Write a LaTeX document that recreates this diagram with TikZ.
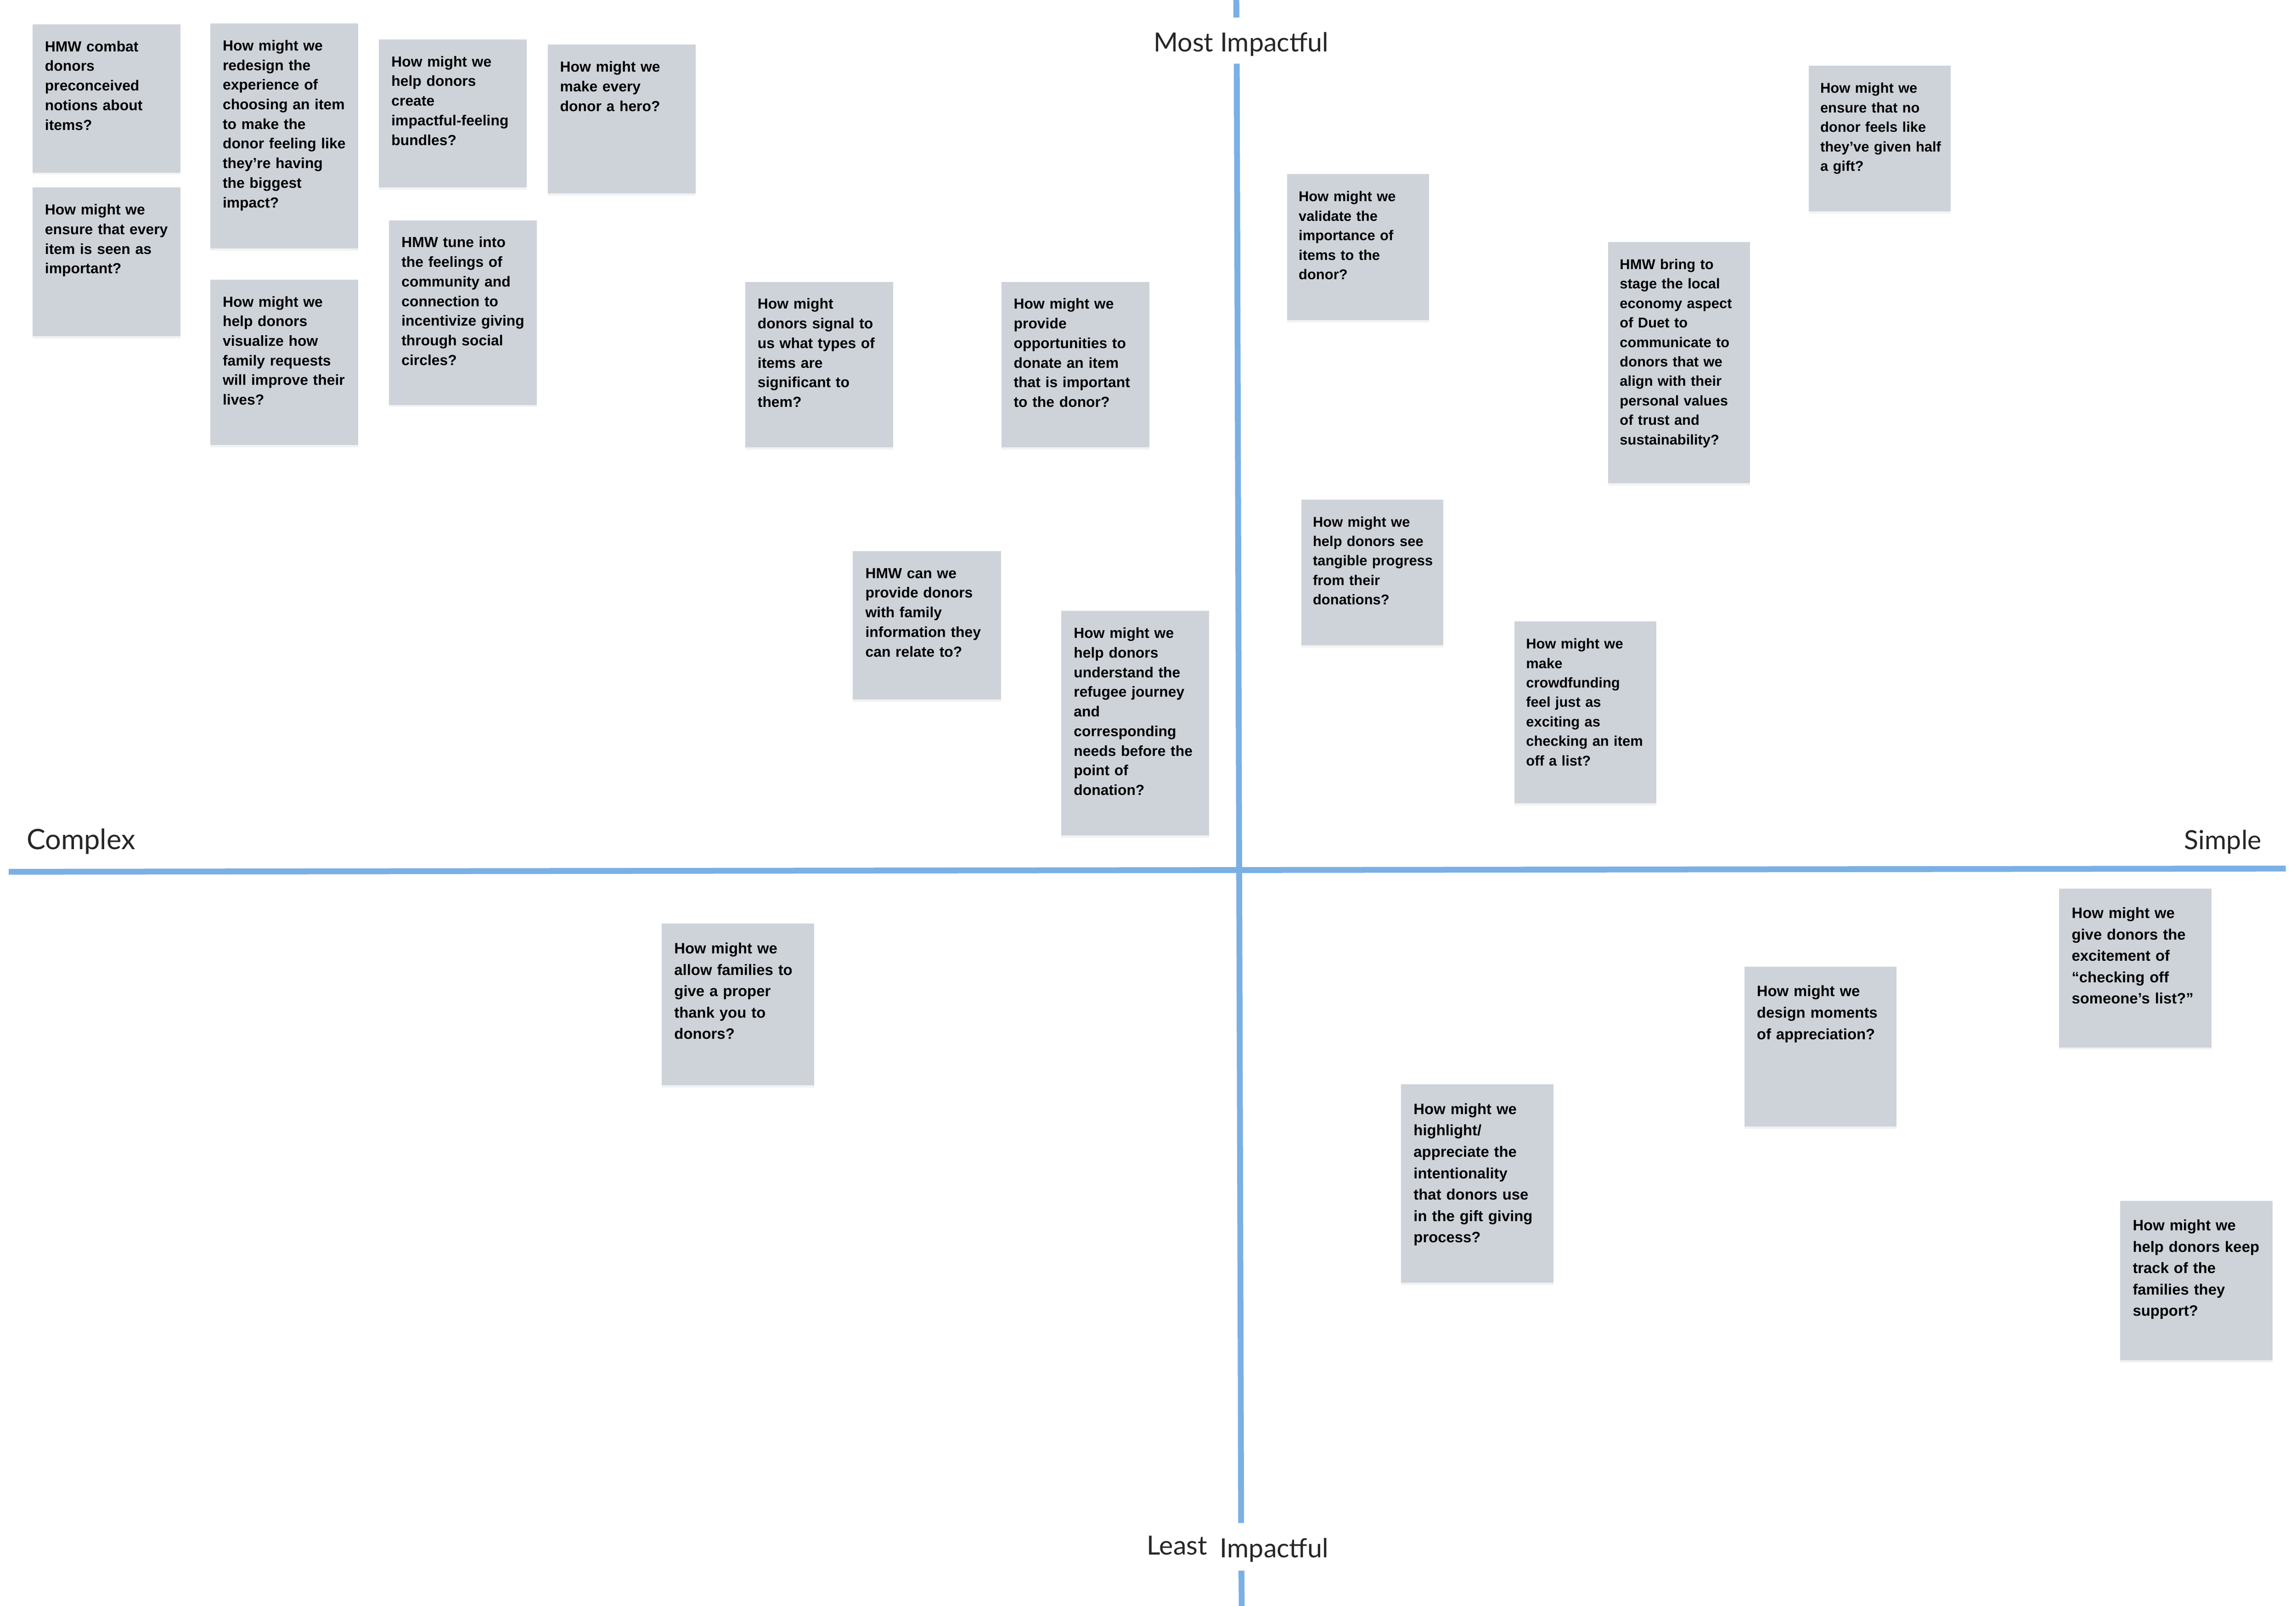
\documentclass[tikz,border=0pt]{standalone}
\usepackage{fontspec}
\usepackage{xcolor}
\usepackage{tikz}
\usetikzlibrary{positioning, shadows, calc}
\setmainfont{Liberation Sans}
\newfontfamily\axisfont{Lato}
\definecolor{notegray}{RGB}{206,211,218}
\definecolor{axisblue}{RGB}{122,176,228}
\definecolor{labelgray}{RGB}{38,38,38}

\tikzset{
  sticky/.style={fill=notegray, anchor=north west, inner sep=0pt, minimum width=101pt,
    drop shadow={shadow xshift=0pt, shadow yshift=-1.5pt, opacity=0.10}},
  idea/.style={anchor=base west, align=left, inner sep=0pt, text width=120pt,
    text=black, font=\fontsize{10}{13.4}\selectfont\bfseries},
  idea small/.style={idea, font=\fontsize{9.7}{13.3}\selectfont\bfseries},
  idea large/.style={idea, font=\fontsize{10.3}{14.6}\selectfont\bfseries},
  axis/.style={line width=4pt, color=axisblue},
  axislabel/.style={inner sep=0pt, text=labelgray, font=\axisfont\fontsize{18}{20}\selectfont}
}

\begin{document}
\begin{tikzpicture}[x=1pt, y=-1pt]
  \useasboundingbox (0,0) rectangle (1568,1096.6);

  % axes
  \draw [axis] (844.3,0) -- (844.4,12);
  \draw [axis] (844.6,43.5) -- (847.6,1040);
  \draw [axis] (847.8,1072.5) -- (848,1096.6);
  \draw [axis] (6,595.3) -- (1561,593.1);

  \node [axislabel, anchor=base] (most) at (847.5,35.2) {Most Impactful};
  \node [axislabel, anchor=base west] (least) at (783,1061.7) {Least};
  \node [axislabel, anchor=base west] (leastImp) at (833,1063.5) {Impactful};
  \node [axislabel, anchor=base west, font=\axisfont\fontsize{19.2}{21}\selectfont] (complex) at (18,580) {Complex};
  \node [axislabel, anchor=base east] (simple) at (1544.6,580) {Simple};

  % complex, most impactful
  \node [sticky, minimum height=101.2pt] (combat) at (22,16.4) {};
  \node [idea] (combat-t) at ([shift={(8.5,18.8)}]combat.north west)
    {HMW combat\\donors\\preconceived\\notions about\\items?};
  \node [sticky, minimum height=101.4pt] (ensure) at (22,127.9) {};
  \node [idea] (ensure-t) at ([shift={(8.5,18.8)}]ensure.north west)
    {How might we\\ensure that every\\item is seen as\\important?};
  \node [sticky, minimum height=153.6pt] (redesign) at (143.4,15.8) {};
  \node [idea] (redesign-t) at ([shift={(8.5,18.8)}]redesign.north west)
    {How might we\\redesign the\\experience of\\choosing an item\\to make the\\donor feeling like\\they’re having\\the biggest\\impact?};
  \node [sticky, minimum height=113.1pt] (visualize) at (143.4,190.7) {};
  \node [idea] (visualize-t) at ([shift={(8.5,18.8)}]visualize.north west)
    {How might we\\help donors\\visualize how\\family requests\\will improve their\\lives?};
  \node [sticky, minimum height=101pt] (bundles) at (258.6,26.7) {};
  \node [idea] (bundles-t) at ([shift={(8.5,18.8)}]bundles.north west)
    {How might we\\help donors\\create\\impactful-feeling\\bundles?};
  \node [sticky, minimum height=126.1pt] (tune) at (265.5,150.2) {};
  \node [idea] (tune-t) at ([shift={(8.5,18.8)}]tune.north west)
    {HMW tune into\\the feelings of\\community and\\connection to\\incentivize giving\\through social\\circles?};
  \node [sticky, minimum height=101.5pt] (hero) at (373.8,30.3) {};
  \node [idea] (hero-t) at ([shift={(8.5,18.8)}]hero.north west)
    {How might we\\make every\\donor a hero?};
  \node [sticky, minimum height=113pt] (signal) at (508.7,192.2) {};
  \node [idea] (signal-t) at ([shift={(8.5,18.8)}]signal.north west)
    {How might\\donors signal to\\us what types of\\items are\\significant to\\them?};
  \node [sticky, minimum height=113pt] (provide) at (683.6,192.2) {};
  \node [idea] (provide-t) at ([shift={(8.5,18.8)}]provide.north west)
    {How might we\\provide\\opportunities to\\donate an item\\that is important\\to the donor?};
  \node [sticky, minimum height=101.3pt] (relate) at (582.3,376.1) {};
  \node [idea] (relate-t) at ([shift={(8.5,18.8)}]relate.north west)
    {HMW can we\\provide donors\\with family\\information they\\can relate to?};
  \node [sticky, minimum height=153.2pt] (refugee) at (724.6,417) {};
  \node [idea] (refugee-t) at ([shift={(8.5,18.8)}]refugee.north west)
    {How might we\\help donors\\understand the\\refugee journey\\and\\corresponding\\needs before the\\point of\\donation?};

  % simple, most impactful
  \node [sticky, minimum width=97pt, minimum height=99.5pt] (validate) at (878.7,118.8) {};
  \node [idea small] (validate-t) at ([shift={(8,18.8)}]validate.north west)
    {How might we\\validate the\\importance of\\items to the\\donor?};
  \node [sticky, minimum width=97pt, minimum height=164.7pt] (duet) at (1098,165.1) {};
  \node [idea small] (duet-t) at ([shift={(8,18.8)}]duet.north west)
    {HMW bring to\\stage the local\\economy aspect\\of Duet to\\communicate to\\donors that we\\align with their\\personal values\\of trust and\\sustainability?};
  \node [sticky, minimum width=97pt, minimum height=99.3pt] (halfgift) at (1234.9,44.8) {};
  \node [idea small] (halfgift-t) at ([shift={(8,18.8)}]halfgift.north west)
    {How might we\\ensure that no\\donor feels like\\they’ve given half\\a gift?};
  \node [sticky, minimum width=97pt, minimum height=99.6pt] (tangible) at (888.4,340.9) {};
  \node [idea small] (tangible-t) at ([shift={(8,18.8)}]tangible.north west)
    {How might we\\help donors see\\tangible progress\\from their\\donations?};
  \node [sticky, minimum width=97pt, minimum height=124.2pt] (crowd) at (1034,424.2) {};
  \node [idea small] (crowd-t) at ([shift={(8,18.8)}]crowd.north west)
    {How might we\\make\\crowdfunding\\feel just as\\exciting as\\checking an item\\off a list?};

  % least impactful
  \node [sticky, minimum width=104pt, minimum height=110.2pt] (thanks) at (451.7,630.6) {};
  \node [idea large] (thanks-t) at ([shift={(8.6,20.6)}]thanks.north west)
    {How might we\\allow families to\\give a proper\\thank you to\\donors?};
  \node [sticky, minimum width=104pt, minimum height=135.4pt] (highlight) at (956.6,740.3) {};
  \node [idea large] (highlight-t) at ([shift={(8.6,20.6)}]highlight.north west)
    {How might we\\highlight/\\appreciate the\\intentionality\\that donors use\\in the gift giving\\process?};
  \node [sticky, minimum width=104pt, minimum height=109.1pt] (moments) at (1191,659.9) {};
  \node [idea large] (moments-t) at ([shift={(8.6,20.6)}]moments.north west)
    {How might we\\design moments\\of appreciation?};
  \node [sticky, minimum width=104pt, minimum height=108.5pt] (checkoff) at (1406,606.5) {};
  \node [idea large] (checkoff-t) at ([shift={(8.6,20.6)}]checkoff.north west)
    {How might we\\give donors the\\excitement of\\“checking off\\someone’s list?”};
  \node [sticky, minimum width=104pt, minimum height=109pt] (track) at (1447.7,819.7) {};
  \node [idea large] (track-t) at ([shift={(8.6,20.6)}]track.north west)
    {How might we\\help donors keep\\track of the\\families they\\support?};
\end{tikzpicture}
\end{document}
